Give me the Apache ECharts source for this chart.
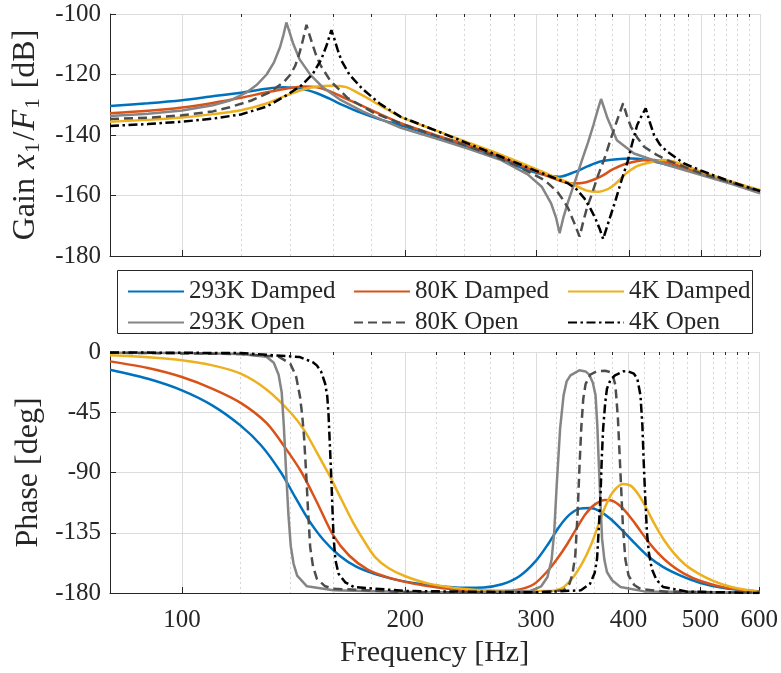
<!DOCTYPE html>
<html>
<head>
<meta charset="utf-8">
<script src="https://cdn.jsdelivr.net/npm/echarts@6/dist/echarts.min.js"></script>
<style>html,body{margin:0;padding:0;background:#fff}#chart{width:781px;height:673px}</style>
</head>
<body>
<div id="chart"></div>
<script>
// ---- Tick values ----
const freqMajorTicks = [100, 200, 300, 400, 500, 600];
const freqMinorTicks = [120, 140, 160, 180, 220, 240, 260, 280, 320, 340, 360, 380, 420, 440, 460, 480, 520, 540, 560, 580];
const gainTicks = [-180, -160, -140, -120, -100];
const phaseTicks = [-180, -135, -90, -45, 0];

// ---- Series names ----
const seriesNames = ['293K Damped', '80K Damped', '4K Damped', '293K Open', '80K Open', '4K Open'];

// ---- Gain [dB] vs frequency [Hz] ----
const gain293Damped = [[80,-130.4],[90,-129.5],[100,-128.5],[110,-127.2],[120,-126.0],[130,-124.7],[137,-124.2],[145,-124.7],[152,-126.2],[158,-128.0],[165,-130.2],[174,-132.6],[185,-134.9],[197,-136.8],[218,-140.2],[242,-143.9],[265,-147.2],[286,-150.8],[305,-153.0],[322,-153.8],[338,-152.2],[352,-150.3],[367,-148.7],[385,-148.0],[402,-147.8],[420,-148.2],[441,-149.3],[470,-151.0],[500,-152.9],[550,-155.8],[600,-158.6]];
const gain80Damped = [[80,-132.8],[90,-132.0],[100,-130.9],[110,-129.4],[120,-127.7],[130,-125.9],[138,-124.7],[146,-124.0],[152,-124.2],[158,-125.5],[165,-127.6],[174,-130.1],[185,-133.2],[197,-136.1],[218,-139.8],[242,-143.3],[265,-146.6],[286,-150.0],[305,-152.8],[320,-154.8],[335,-156.0],[350,-155.6],[366,-153.8],[380,-151.4],[395,-149.6],[415,-148.4],[432,-148.3],[450,-149.0],[470,-150.4],[500,-152.6],[550,-155.6],[600,-158.5]];
const gain4Damped = [[80,-135.6],[90,-135.0],[100,-134.2],[110,-133.1],[120,-131.8],[130,-129.6],[138,-127.0],[146,-124.9],[152,-124.0],[158,-123.7],[166,-124.1],[174,-126.6],[186,-130.6],[197,-134.0],[218,-138.2],[242,-142.4],[265,-145.9],[286,-149.2],[305,-152.0],[317,-153.8],[335,-156.2],[350,-158.3],[362,-158.8],[375,-157.8],[383,-156.2],[395,-153.0],[410,-150.3],[432,-148.8],[445,-148.3],[465,-149.2],[500,-152.1],[550,-155.4],[600,-158.2]];
const gain293Open = [[80,-133.7],[90,-133.0],[100,-131.9],[110,-130.2],[116,-128.6],[122,-126.0],[126,-123.5],[130,-120.0],[133,-116.0],[135.5,-111.0],[137,-106.8],[138.2,-102.8],[139.5,-105.8],[141,-109.5],[144,-115.0],[149,-120.2],[155,-124.4],[163,-128.2],[175,-132.2],[190,-136.0],[197,-137.6],[220,-141.2],[242,-144.4],[269,-148.3],[292,-153.0],[305,-157.1],[314,-162.6],[319,-167.5],[322.4,-172.5],[326,-167.5],[331,-162.0],[338,-155.5],[345,-148.8],[352,-142.5],[358,-136.7],[363,-131.5],[366.6,-128.1],[370,-131.0],[374,-134.5],[385,-141.7],[406,-146.1],[450,-149.9],[500,-153.2],[550,-156.2],[600,-159.3]];
const gain80Open = [[80,-134.7],[90,-134.3],[100,-133.5],[110,-132.2],[116,-130.8],[124,-128.6],[131,-126.0],[137,-122.6],[140,-120.0],[142,-117.2],[144,-112.8],[145.5,-108.5],[147.1,-103.6],[148.3,-106.5],[149.7,-109.7],[151.5,-113.5],[153.6,-116.9],[158.5,-122.2],[167,-127.7],[181,-132.6],[197,-136.2],[220,-140.3],[242,-143.6],[265,-147.3],[283,-150.3],[300,-153.5],[308,-155.0],[320,-158.7],[326,-161.5],[331,-164.2],[337,-168.8],[343,-173.6],[347,-168.5],[351,-164.0],[356,-159.8],[363,-153.5],[370.6,-147.7],[377,-142.0],[383.4,-136.7],[388,-133.0],[392.6,-129.5],[397,-133.5],[402,-137.2],[410,-140.8],[419,-143.9],[435,-146.5],[450,-148.3],[500,-152.7],[550,-155.8],[600,-158.7]];
const gain4Open = [[80,-137.0],[90,-136.4],[100,-135.6],[110,-134.6],[120,-133.2],[130,-130.6],[138,-127.0],[145,-123.5],[150,-119.8],[154,-115.0],[156.5,-110.5],[158.9,-105.3],[160.5,-108.5],[162,-111.8],[164,-115.5],[168,-120.0],[175,-124.8],[185,-129.8],[197,-134.0],[218,-138.2],[242,-142.7],[269,-147.2],[298,-151.6],[314,-153.8],[331,-156.0],[340,-158.0],[348,-160.9],[355,-164.5],[360,-167.5],[365,-171.0],[369,-174.4],[376,-168.0],[383,-162.0],[390,-155.5],[398,-148.8],[404,-142.5],[410,-136.7],[416,-133.5],[421,-131.2],[426,-135.5],[432,-140.0],[440,-143.2],[450,-145.5],[474,-149.4],[500,-151.8],[526,-153.8],[560,-156.2],[600,-158.5]];

// ---- Phase [deg] vs frequency [Hz] ----
const phase293Damped = [[80,-13.2],[90,-20.0],[100,-28.6],[110,-40.0],[120,-55.0],[128,-70.0],[136,-90.0],[142,-108.0],[148,-125.0],[155,-140.0],[163,-152.0],[172,-160.5],[185,-167.0],[200,-171.5],[220,-174.5],[240,-176.0],[255,-175.8],[270,-173.5],[285,-167.5],[300,-156.0],[312,-143.0],[322,-131.0],[333,-121.5],[344,-117.0],[355,-116.5],[366,-119.0],[378,-124.5],[392,-133.0],[408,-143.0],[425,-152.5],[445,-160.5],[470,-167.0],[500,-172.5],[540,-176.5],[600,-178.8]];
const phase80Damped = [[80,-7.0],[90,-12.0],[100,-18.7],[110,-27.5],[120,-38.0],[130,-53.0],[138,-72.0],[145,-90.0],[152,-112.0],[160,-137.0],[168,-152.0],[178,-162.5],[190,-168.5],[205,-173.0],[225,-176.5],[250,-178.3],[270,-178.5],[285,-177.3],[298,-173.5],[310,-164.5],[320,-155.0],[331,-143.0],[341,-131.0],[350,-121.0],[360,-114.0],[372,-110.5],[382,-111.5],[394,-117.5],[408,-128.0],[423,-140.0],[438,-150.0],[455,-158.5],[475,-165.5],[500,-171.0],[540,-176.0],[600,-179.3]];
const phase4Damped = [[80,-2.5],[90,-4.0],[100,-6.2],[110,-10.0],[120,-16.2],[130,-28.0],[140,-45.0],[146,-58.0],[152,-75.0],[158,-92.0],[164,-110.0],[170,-127.0],[176,-141.0],[182,-153.0],[190,-161.5],[200,-167.5],[215,-173.0],[240,-177.0],[270,-178.5],[310,-178.5],[325,-176.5],[337,-168.0],[347,-157.0],[356,-144.0],[364,-129.5],[372,-115.5],[381,-104.5],[393,-98.5],[403,-100.0],[413,-107.0],[423,-117.0],[433,-128.0],[446,-140.0],[460,-150.0],[476,-158.5],[495,-165.0],[520,-171.0],[550,-175.5],[600,-179.3]];
const phase293Open = [[80,-0.5],[100,-0.8],[120,-1.5],[130,-3.5],[133,-8.0],[135,-17.0],[136.3,-30.0],[137.2,-55.0],[138.2,-90.0],[139.2,-122.0],[140.2,-145.0],[141.4,-158.0],[143,-167.0],[147.4,-175.0],[160,-178.0],[200,-179.3],[250,-179.5],[295,-178.5],[305,-175.0],[311,-168.0],[315,-155.0],[317.5,-135.0],[320,-99.6],[323.4,-57.3],[326.9,-32.4],[330,-22.0],[334,-17.4],[343.2,-13.7],[350,-14.5],[354,-16.9],[358,-23.0],[361,-32.4],[363,-55.0],[364.6,-82.2],[366.5,-112.0],[368.4,-139.4],[371,-155.0],[374,-164.3],[380,-170.5],[390,-175.5],[420,-178.8],[600,-179.8]];
const phase80Open = [[80,-0.5],[120,-1.5],[135,-3.5],[140,-8.7],[142.5,-18.0],[144.3,-33.6],[145.3,-48.0],[146.1,-63.5],[147.1,-92.0],[147.9,-118.0],[148.9,-145.7],[150.2,-160.0],[152,-169.3],[156,-175.0],[160,-176.8],[200,-179.3],[300,-179.7],[327,-178.0],[333,-173.0],[336,-166.0],[339,-152.0],[341.5,-120.0],[343.5,-85.0],[345.5,-55.0],[347.5,-35.0],[350,-24.0],[355,-17.0],[362,-14.5],[372,-14.0],[378,-15.0],[381,-18.0],[384,-25.0],[387,-50.0],[390,-90.0],[393,-130.0],[396,-155.0],[400,-167.0],[407,-174.0],[415,-177.0],[450,-179.0],[600,-179.8]];
const phase4Open = [[80,-0.3],[120,-0.8],[144,-3.7],[150,-7.5],[152,-10.0],[154,-14.5],[156,-23.7],[157,-33.0],[157.6,-46.0],[158.3,-70.0],[158.9,-91.0],[159.5,-115.0],[160.1,-138.0],[161,-155.0],[162.6,-165.6],[166,-172.0],[170.5,-175.5],[200,-178.5],[300,-179.5],[345,-178.0],[355,-173.0],[360,-165.0],[362.7,-154.4],[364.8,-130.0],[366.6,-107.0],[368,-80.0],[369.6,-57.3],[372,-38.0],[374,-27.4],[378,-21.0],[383.4,-17.4],[393.6,-14.4],[400,-14.6],[406.6,-16.2],[411,-20.0],[415,-32.4],[417.5,-55.0],[419.2,-82.0],[421.3,-110.0],[423.4,-134.5],[426,-150.0],[429.8,-161.9],[436,-170.0],[445.2,-175.5],[480,-179.0],[600,-180.0]];

const gainData = [gain293Damped, gain80Damped, gain4Damped, gain293Open, gain80Open, gain4Open];
const phaseData = [phase293Damped, phase80Damped, phase4Damped, phase293Open, phase80Open, phase4Open];

// ---- Styles ----
const FONT = 'Liberation Serif';
const TXT = '#262626';
const lineStyles = [
  {color: '#0072BD', width: 2.5, type: 'solid'},
  {color: '#D95319', width: 2.5, type: 'solid'},
  {color: '#EDB120', width: 2.5, type: 'solid'},
  {color: '#858585', width: 2.5, type: 'solid'},
  {color: '#4d4d4d', width: 2.5, type: [9, 5]},
  {color: '#000000', width: 2.5, type: [9, 3.5, 2.5, 3.5]}
];
const smoothness = [0.3, 0.3, 0.3, false, false, false];
const tickRich = {t: {fontFamily: FONT, fontSize: 25, color: TXT}};

function xAxesFor(gridIndex, showLabels) {
  return [
    {
      type: 'log', logBase: 10, min: 80, max: 600, gridIndex: gridIndex,
      axisLine: {show: true, onZero: false, lineStyle: {color: TXT, width: 1}},
      axisTick: {show: true, inside: true, length: 6, customValues: freqMajorTicks, lineStyle: {color: TXT}},
      axisLabel: {show: showLabels, customValues: freqMajorTicks, margin: 15, fontFamily: FONT, fontSize: 25, color: TXT,
        formatter: v => '{t|' + String(Math.round(v)) + '}', rich: tickRich},
      splitLine: {show: true, lineStyle: {color: '#dcdcdc', width: 1}},
      name: showLabels ? 'Frequency [Hz]' : '', nameLocation: 'middle', nameGap: 45,
      nameTextStyle: {fontFamily: FONT, fontSize: 30, color: TXT}
    },
    {
      type: 'log', logBase: 10, min: 80, max: 600, gridIndex: gridIndex,
      axisLine: {show: false},
      axisTick: {show: true, inside: true, length: 3, customValues: freqMinorTicks, lineStyle: {color: TXT}},
      axisLabel: {show: false, customValues: freqMinorTicks},
      splitLine: {show: true, lineStyle: {color: '#d6d6d6', width: 1, type: [2, 3]}}
    }
  ];
}

const richName = {
  n: {fontFamily: FONT, fontSize: 32, color: TXT, lineHeight: 38, verticalAlign: 'middle'},
  i: {fontFamily: FONT, fontSize: 34, fontStyle: 'italic', color: TXT, lineHeight: 38, verticalAlign: 'middle', padding: [0, 1, 0, 1]},
  s: {fontFamily: FONT, fontSize: 21, color: TXT, lineHeight: 21, verticalAlign: 'bottom', padding: [0, 2, 0, 0]}
};

const yAxes = [
  {
    type: 'value', gridIndex: 0, min: -180, max: -100, interval: 20,
    axisLine: {show: true, lineStyle: {color: TXT}},
    axisTick: {show: true, inside: true, length: 6, lineStyle: {color: TXT}},
    axisLabel: {margin: 9, fontFamily: FONT, fontSize: 25, color: TXT, formatter: v => '{t|' + String(v) + '}', rich: tickRich},
    splitLine: {show: true, lineStyle: {color: '#dcdcdc'}},
    name: '{n|Gain }{i|x}{s|1}{n|/}{i|F}{s|1}{n| [dB]}', nameLocation: 'middle', nameGap: 60, nameRotate: 90,
    nameTextStyle: {rich: richName}
  },
  {
    type: 'value', gridIndex: 1, min: -180, max: 0, interval: 45,
    axisLine: {show: true, lineStyle: {color: TXT}},
    axisTick: {show: true, inside: true, length: 6, lineStyle: {color: TXT}},
    axisLabel: {margin: 9, fontFamily: FONT, fontSize: 25, color: TXT, formatter: v => '{t|' + String(v) + '}', rich: tickRich},
    splitLine: {show: true, lineStyle: {color: '#dcdcdc'}},
    name: 'Phase [deg]', nameLocation: 'middle', nameGap: 61, nameRotate: 90,
    nameTextStyle: {fontFamily: FONT, fontSize: 32, color: TXT}
  }
];

const series = [];
seriesNames.forEach((name, k) => {
  series.push({
    name: name, type: 'line', xAxisIndex: 0, yAxisIndex: 0,
    data: gainData[k], symbol: 'none', showSymbol: false, smooth: smoothness[k],
    lineStyle: lineStyles[k], itemStyle: {color: lineStyles[k].color}, z: 2 + k
  });
  series.push({
    name: name, type: 'line', xAxisIndex: 2, yAxisIndex: 1,
    data: phaseData[k], symbol: 'none', showSymbol: false, smooth: smoothness[k],
    lineStyle: lineStyles[k], itemStyle: {color: lineStyles[k].color}, z: 2 + k
  });
});

const legendBase = {
  orient: 'vertical', top: 274, itemWidth: 56, itemHeight: 12, itemGap: 6,
  selectedMode: false,
  itemStyle: {opacity: 0},
  textStyle: {fontFamily: FONT, fontSize: 25, lineHeight: 25, color: TXT}
};

const option = {
  animation: false,
  backgroundColor: '#ffffff',
  textStyle: {fontFamily: FONT, color: TXT},
  grid: [
    {left: 110, top: 14, width: 650, height: 242},
    {left: 110, top: 352, width: 650, height: 241}
  ],
  xAxis: xAxesFor(0, false).concat(xAxesFor(1, true)),
  yAxis: yAxes,
  legend: [
    Object.assign({left: 122, data: [seriesNames[0], seriesNames[3]]}, legendBase),
    Object.assign({left: 348, data: [seriesNames[1], seriesNames[4]]}, legendBase),
    Object.assign({left: 562, data: [seriesNames[2], seriesNames[5]]}, legendBase)
  ],
  graphic: [{
    type: 'rect', left: 117, top: 270, z: 0,
    shape: {width: 635, height: 63},
    style: {fill: '#ffffff', stroke: TXT, lineWidth: 1}
  }],
  series: series
};

const chart = echarts.init(document.getElementById('chart'), null, {renderer: 'canvas'});
chart.setOption(option);
</script>
</body>
</html>
